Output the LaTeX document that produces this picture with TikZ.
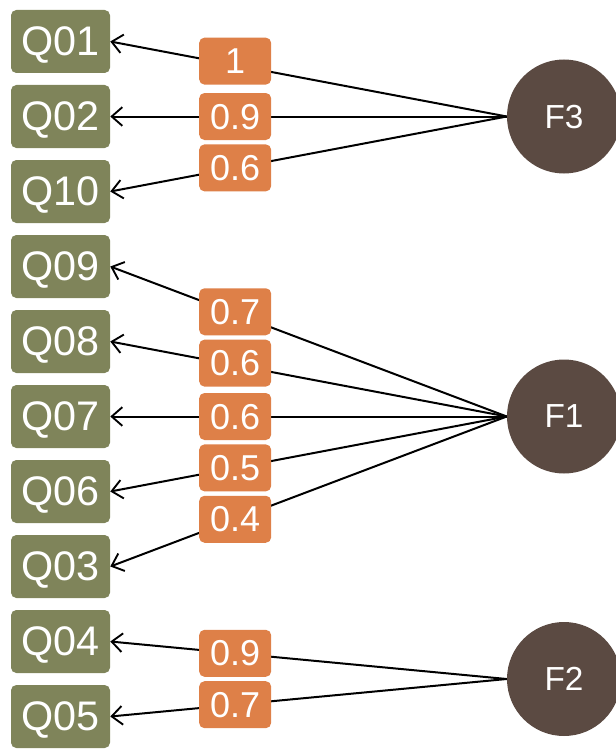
\documentclass[tikz,border=0pt]{standalone}
\usepackage{fontspec}
\setmainfont{Liberation Sans}
\usetikzlibrary{arrows.meta}
\definecolor{qgreen}{RGB}{127,132,90}
\definecolor{lorange}{RGB}{222,128,72}
\definecolor{fbrown}{RGB}{91,74,66}
\tikzset{
  qbox/.style={fill=qgreen, rounded corners=4pt, minimum width=74.25pt, minimum height=47.25pt, inner sep=0pt, text depth=0pt, text=white, font=\fontsize{31}{31}\selectfont},
  fcirc/.style={circle, fill=fbrown, minimum size=85.5pt, inner sep=0pt, text depth=0pt, text=white, font=\fontsize{25}{25}\selectfont},
  lbl/.style={fill=lorange, rounded corners=4pt, minimum width=54pt, minimum height=35.25pt, inner sep=0pt, text depth=0pt, text=white, font=\fontsize{27}{27}\selectfont},
  load/.style={draw=black, line width=1.5pt, -{Straight Barb[length=8pt,width=14pt,line width=1.4pt]}},
}
\begin{document}
\begin{tikzpicture}[x=0.75pt,y=-0.75pt]
\useasboundingbox (0,0) rectangle (616,749);
\node[qbox] (Q01) at (60.5,41.5) {Q01};
\node[qbox] (Q02) at (60.5,116.5) {Q02};
\node[qbox] (Q10) at (60.5,191.5) {Q10};
\node[qbox] (Q09) at (60.5,266.5) {Q09};
\node[qbox] (Q08) at (60.5,341.5) {Q08};
\node[qbox] (Q07) at (60.5,416.5) {Q07};
\node[qbox] (Q06) at (60.5,491.5) {Q06};
\node[qbox] (Q03) at (60.5,566.5) {Q03};
\node[qbox] (Q04) at (60.5,641.5) {Q04};
\node[qbox] (Q05) at (60.5,716.5) {Q05};
\node[fcirc] (F3) at (564,116.5) {F3};
\node[fcirc] (F1) at (564,416.5) {F1};
\node[fcirc] (F2) at (564,679) {F2};
\draw[load] (F3.west) -- node[lbl, pos=0.685, yshift=3pt] (L1) {1} (Q01.east);
\draw[load] (F3.west) -- node[lbl, pos=0.685] (L2) {0.9} (Q02.east);
\draw[load] (F3.west) -- node[lbl, pos=0.685] (L3) {0.6} (Q10.east);
\draw[load] (F1.west) -- node[lbl, pos=0.685, yshift=1.5pt] (L4) {0.7} (Q09.east);
\draw[load] (F1.west) -- node[lbl, pos=0.685, yshift=1.5pt] (L5) {0.6} (Q08.east);
\draw[load] (F1.west) -- node[lbl, pos=0.685] (L6) {0.6} (Q07.east);
\draw[load] (F1.west) -- node[lbl, pos=0.685] (L7) {0.5} (Q06.east);
\draw[load] (F1.west) -- node[lbl, pos=0.685] (L8) {0.4} (Q03.east);
\draw[load] (F2.west) -- node[lbl, pos=0.685] (L9) {0.9} (Q04.east);
\draw[load] (F2.west) -- node[lbl, pos=0.685] (L10) {0.7} (Q05.east);
\end{tikzpicture}
\end{document}
